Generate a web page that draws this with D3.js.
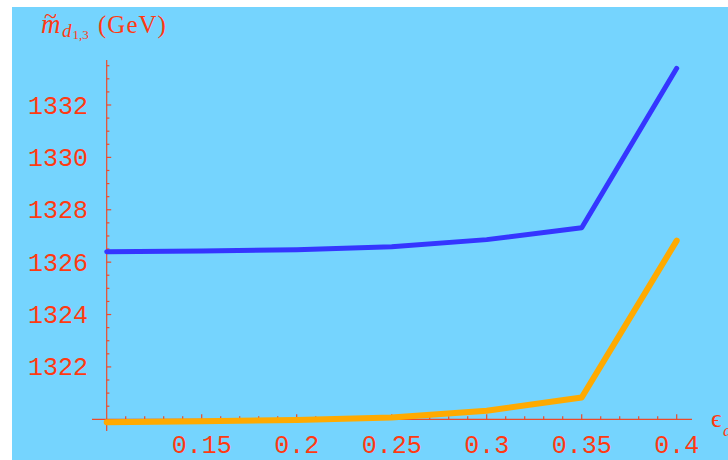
<!DOCTYPE html>
<html>
<head>
<meta charset="utf-8">
<script src="https://cdn.jsdelivr.net/npm/d3@7"></script>
<style>
  html, body { margin: 0; padding: 0; background: #ffffff; }
  svg { display: block; }
</style>
</head>
<body>
<svg id="chart" width="728" height="460"></svg>
<script>
// epsilon_d sample points
const epsilon = [0.1, 0.15, 0.2, 0.25, 0.3, 0.35, 0.4];
// squark masses in GeV
const massUpper = [1326.40, 1326.43, 1326.47, 1326.59, 1326.86, 1327.31, 1333.40];
const massLower = [1319.89, 1319.93, 1319.97, 1320.07, 1320.33, 1320.83, 1326.82];

const xTickValues = [0.15, 0.2, 0.25, 0.3, 0.35, 0.4];
const xTickLabels = ["0.15", "0.2", "0.25", "0.3", "0.35", "0.4"];
const yTickValues = [1322, 1324, 1326, 1328, 1330, 1332];
const yTickLabels = ["1322", "1324", "1326", "1328", "1330", "1332"];

const RED = "#ff3a12";
const AXIS = "#ee4a2a";
const BG = "#75d4fe";

const svg = d3.select("#chart");

svg.append("rect")
  .attr("x", 12).attr("y", 7)
  .attr("width", 728 - 12).attr("height", 460 - 7)
  .attr("fill", BG);

const x = d3.scaleLinear().domain([0.1, 0.4]).range([106.7, 676.7]);
const y = d3.scaleLinear().domain([1320, 1332]).range([419.3, 105]);

const xMinor = d3.range(11, 41).map(v => v / 100).filter(v => Math.round(v * 100) % 5 !== 0);
const yMinor = d3.range(1320.5, 1334, 0.5).filter(v => v % 2 !== 0);

// axis lines
const axes = svg.append("g").attr("stroke", AXIS).attr("stroke-width", 1.2);
axes.append("line")
  .attr("x1", 92).attr("x2", 692)
  .attr("y1", y(1320)).attr("y2", y(1320));
axes.append("line")
  .attr("x1", x(0.1)).attr("x2", x(0.1))
  .attr("y1", 60).attr("y2", 431);

// x ticks (pointing up into the plot)
axes.selectAll(".xmaj").data(xTickValues).join("line")
  .attr("x1", d => x(d)).attr("x2", d => x(d))
  .attr("y1", y(1320)).attr("y2", y(1320) - 5);
axes.selectAll(".xmin").data(xMinor).join("line")
  .attr("x1", d => x(d)).attr("x2", d => x(d))
  .attr("y1", y(1320)).attr("y2", y(1320) - 3);

// y ticks (pointing right into the plot)
axes.selectAll(".ymaj").data(yTickValues).join("line")
  .attr("x1", x(0.1)).attr("x2", x(0.1) + 4.5)
  .attr("y1", d => y(d)).attr("y2", d => y(d));
axes.selectAll(".ymin").data(yMinor).join("line")
  .attr("x1", x(0.1)).attr("x2", x(0.1) + 2.7)
  .attr("y1", d => y(d)).attr("y2", d => y(d));

// tick labels
const mono = "'Liberation Mono', 'DejaVu Sans Mono', monospace";
svg.append("g").selectAll("text").data(xTickValues).join("text")
  .attr("x", (d, i) => x(d))
  .attr("y", 453)
  .attr("text-anchor", "middle")
  .attr("font-family", mono)
  .attr("font-size", 25)
  .attr("fill", RED)
  .text((d, i) => xTickLabels[i]);

svg.append("g").selectAll("text").data(yTickValues).join("text")
  .attr("x", 88)
  .attr("y", d => y(d) + 8.5)
  .attr("text-anchor", "end")
  .attr("font-family", mono)
  .attr("font-size", 25)
  .attr("fill", RED)
  .text((d, i) => yTickLabels[i]);

// data lines
const line = d3.line().x(d => x(d[0])).y(d => y(d[1]));
svg.append("path")
  .datum(epsilon.map((e, i) => [e, massLower[i]]))
  .attr("d", line)
  .attr("fill", "none")
  .attr("stroke", "#ffaa00")
  .attr("stroke-width", 6)
  .attr("stroke-linecap", "round")
  .attr("stroke-linejoin", "round");
svg.append("path")
  .datum(epsilon.map((e, i) => [e, massUpper[i]]))
  .attr("d", line)
  .attr("fill", "none")
  .attr("stroke", "#3535ff")
  .attr("stroke-width", 5)
  .attr("stroke-linecap", "round")
  .attr("stroke-linejoin", "round");

// axis titles
const serif = "'Liberation Serif', 'Times New Roman', serif";
const title = svg.append("g").attr("fill", RED).attr("font-family", serif);
title.append("text").attr("x", 41).attr("y", 33)
  .attr("font-size", 27).attr("font-style", "italic").text("m");
title.append("text").attr("x", 44).attr("y", 24)
  .attr("font-size", 24).text("~");
title.append("text").attr("x", 62).attr("y", 36.5)
  .attr("font-size", 19).attr("font-style", "italic").text("d");
title.append("text").attr("x", 72.5).attr("y", 38.5)
  .attr("font-size", 13).text("1,3");
title.append("text").attr("x", 98).attr("y", 33)
  .attr("font-size", 25).attr("letter-spacing", 1).text("(GeV)");

const xt = svg.append("g").attr("fill", RED).attr("font-family", serif);
xt.append("text").attr("x", 711).attr("y", 427)
  .attr("font-size", 26).text("ϵ");
xt.append("text").attr("x", 723).attr("y", 436)
  .attr("font-size", 17).attr("font-style", "italic").text("d");
</script>
</body>
</html>
